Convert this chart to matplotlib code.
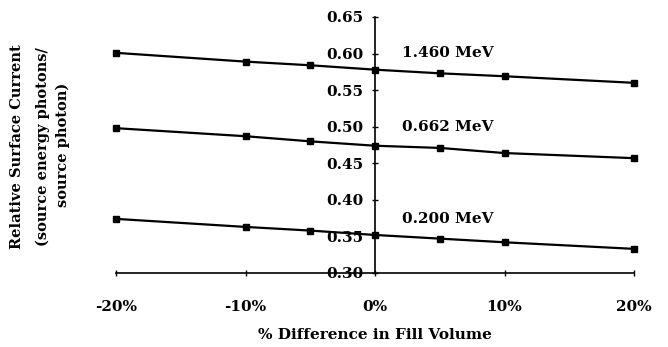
import matplotlib
matplotlib.use('Agg')
import matplotlib.pyplot as plt

# % difference in fill volume
fill_diff = [-20, -10, -5, 0, 5, 10, 20]
# relative surface current per source energy
mev_1460 = [0.601, 0.589, 0.584, 0.578, 0.573, 0.569, 0.560]
mev_0662 = [0.498, 0.487, 0.480, 0.474, 0.471, 0.464, 0.457]
mev_0200 = [0.374, 0.363, 0.358, 0.352, 0.347, 0.342, 0.333]
labels = ['1.460 MeV', '0.662 MeV', '0.200 MeV']
label_y = [0.601, 0.499, 0.3745]

xticks = [-20, -10, 0, 10, 20]
xticklabels = ['-20%', '-10%', '0%', '10%', '20%']
yticks = [0.30, 0.35, 0.40, 0.45, 0.50, 0.55, 0.60, 0.65]

font = dict(family='DejaVu Serif', fontweight='bold')

fig = plt.figure(figsize=(6.68, 3.47), dpi=100)
ax = fig.add_axes([116/668, 74/347, 518/668, 256/347])

for series in (mev_1460, mev_0662, mev_0200):
    ax.plot(fill_diff, series, color='black', lw=1.6, marker='s',
            markersize=5, clip_on=False, zorder=3)

for lab, ly in zip(labels, label_y):
    ax.text(2.1, ly, lab, fontsize=11, va='center', ha='left', **font)

ax.set_xlim(-20, 20)
ax.set_ylim(0.30, 0.65)
ax.spines['left'].set_position(('data', 0))
ax.spines['top'].set_visible(False)
ax.spines['right'].set_visible(False)
for sp in ('left', 'bottom'):
    ax.spines[sp].set_linewidth(1.2)

ax.set_xticks(xticks)
ax.set_xticklabels(xticklabels, **font)
ax.set_yticks(yticks)
ax.set_yticklabels(['%.2f' % v for v in yticks], **font)
ax.tick_params(axis='both', direction='inout', length=5, width=1, labelsize=11)
ax.tick_params(axis='x', pad=17)
ax.tick_params(axis='y', pad=6)

ax.set_xlabel('% Difference in Fill Volume', fontsize=11, va='center', **font)
ax.xaxis.set_label_coords(0.5, -0.242)

fig.text(17/668, 1 - 147/347, 'Relative Surface Current', rotation=90,
         ha='center', va='center', fontsize=10.5, **font)
fig.text(43/668, 1 - 147/347, '(source energy photons/', rotation=90,
         ha='center', va='center', fontsize=10.5, **font)
fig.text(63/668, 1 - 145/347, 'source photon)', rotation=90,
         ha='center', va='center', fontsize=10.5, **font)

fig.savefig('out.png', dpi=100, facecolor='white')
